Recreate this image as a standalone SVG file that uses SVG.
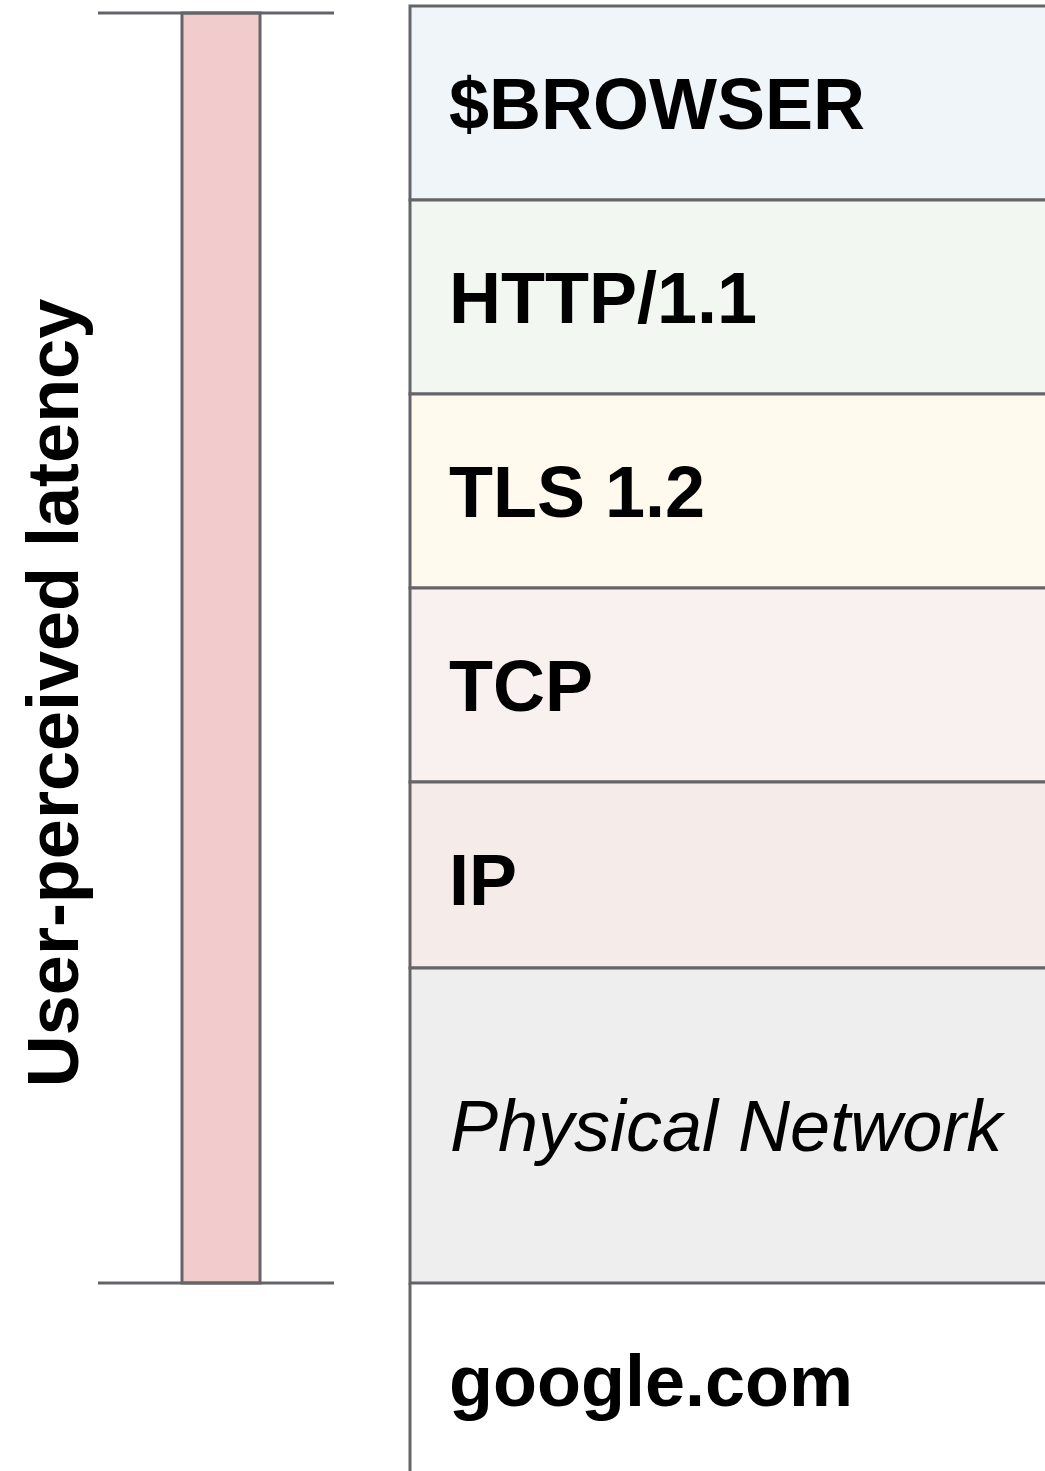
<svg xmlns="http://www.w3.org/2000/svg" width="1045" height="1471" viewBox="0 0 1045 1471">
  <style>
    .ln { stroke: #656569; stroke-width: 3; fill: none; }
    .cell { stroke: #656569; stroke-width: 3; }
    .lbl { font-family: "Liberation Sans", Arial, sans-serif; font-size: 72px; font-weight: bold; fill: #000; }
    .ital { font-family: "Liberation Sans", Arial, sans-serif; font-size: 72px; font-style: italic; fill: #000; }
  </style>
  <rect width="1045" height="1471" fill="#ffffff"/>

  <g id="latency-bar">
    <rect x="182" y="13" width="78" height="1270" fill="#f2cccc" class="cell"/>
    <line x1="98" y1="13" x2="334" y2="13" class="ln"/>
    <line x1="98" y1="1283" x2="334" y2="1283" class="ln"/>
  </g>
  <g id="latency-label">
    <text class="lbl" transform="translate(78,693) rotate(-90)" text-anchor="middle">User-perceived latency</text>
  </g>

  <g id="browser">
    <rect x="410" y="6" width="650" height="194" fill="#f0f5fa" class="cell"/>
    <text class="lbl" x="449" y="129">$BROWSER</text>
  </g>
  <g id="http">
    <rect x="410" y="200" width="650" height="194" fill="#f2f7f1" class="cell"/>
    <text class="lbl" x="449" y="323">HTTP/1.1</text>
  </g>
  <g id="tls">
    <rect x="410" y="394" width="650" height="194" fill="#fff9ee" class="cell"/>
    <text class="lbl" x="449" y="517">TLS 1.2</text>
  </g>
  <g id="tcp">
    <rect x="410" y="588" width="650" height="194" fill="#f9f0f0" class="cell"/>
    <text class="lbl" x="449" y="711">TCP</text>
  </g>
  <g id="ip">
    <rect x="410" y="782" width="650" height="186" fill="#f5ebe8" class="cell"/>
    <text class="lbl" x="449" y="905">IP</text>
  </g>
  <g id="physical">
    <rect x="410" y="968" width="650" height="315" fill="#eeeeee" class="cell"/>
    <text class="ital" x="450" y="1151">Physical Network</text>
  </g>
  <g id="google">
    <line x1="410" y1="1283" x2="410" y2="1475" class="ln"/>
    <text class="lbl" x="449" y="1406">google.com</text>
  </g>
  <g id="connectors"></g>
</svg>
